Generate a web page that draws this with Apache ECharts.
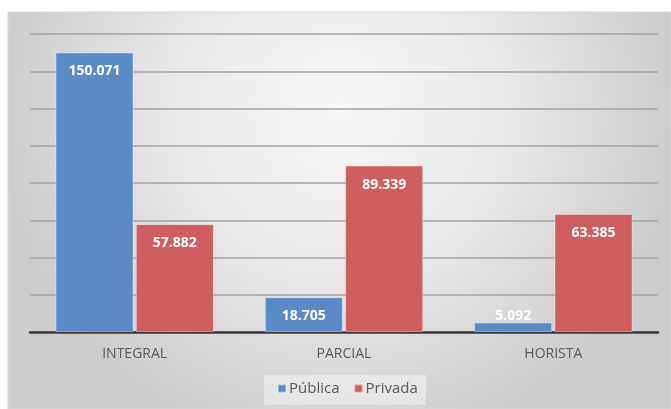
<!DOCTYPE html>
<html>
<head>
<meta charset="utf-8">
<script src="https://cdn.jsdelivr.net/npm/echarts@6/dist/echarts.min.js"></script>
<style>
  html, body { margin: 0; padding: 0; background: #ffffff; }
  #chart { width: 671px; height: 409px; }
</style>
</head>
<body>
<div id="chart"></div>
<script>
// Regime categories and enrolment counts per network
const categories = ['INTEGRAL', 'PARCIAL', 'HORISTA'];
const publica = [150071, 18705, 5092];
const privada = [57882, 89339, 63385];
const seriesNames = ['Pública', 'Privada'];

const fmt = v => v.toLocaleString('pt-BR');

const chart = echarts.init(document.getElementById('chart'), null, { renderer: 'canvas' });

const labelInside = {
  show: true,
  position: 'insideTop',
  distance: 12,
  color: '#ffffff',
  fontFamily: 'Open Sans',
  fontWeight: 'bold',
  fontSize: 14,
  formatter: p => fmt(p.value)
};

function withLabels(values) {
  // very short bars carry their label just above the bar
  return values.map(v => v < 10000
    ? { value: v, label: { position: 'top', distance: 0 } }
    : v);
}

chart.setOption({
  animation: false,
  graphic: [{
    type: 'rect',
    z: -10,
    silent: true,
    shape: { x: 8, y: 12, width: 663, height: 397 },
    style: {
      fill: {
        type: 'radial', x: 0.5, y: 0.25, r: 0.85,
        colorStops: [
          { offset: 0, color: '#f7f7f7' },
          { offset: 0.5, color: '#e8e8e8' },
          { offset: 1, color: '#cdcdcd' }
        ]
      },
      stroke: '#d9d9d9',
      lineWidth: 1
    }
  }, {
    type: 'rect',
    z: -5,
    silent: true,
    shape: { x: 264, y: 375, width: 162, height: 30 },
    style: { fill: 'rgba(255,255,255,0.4)' }
  }],
  grid: { left: 30, right: 13, top: 34, bottom: 77, containLabel: false },
  legend: {
    data: seriesNames,
    bottom: 8,
    left: 272,
    itemWidth: 8,
    itemHeight: 8,
    itemGap: 14,
    icon: 'rect',
    textStyle: { color: '#595959', fontSize: 15, fontFamily: 'Open Sans', padding: [0, 0, 0, -2] }
  },
  xAxis: {
    type: 'category',
    data: categories,
    axisLine: { show: true, lineStyle: { color: '#3a3a3a', width: 2.5 } },
    axisTick: { show: false },
    axisLabel: { color: '#595959', fontSize: 14, fontFamily: 'Open Sans', margin: 15 }
  },
  yAxis: {
    type: 'value',
    min: 0,
    max: 160000,
    interval: 20000,
    axisLabel: { show: false },
    axisLine: { show: false },
    axisTick: { show: false },
    splitLine: { lineStyle: { color: '#a3a3a3', width: 1.5 } }
  },
  series: [{
    name: seriesNames[0],
    type: 'bar',
    data: withLabels(publica),
    barWidth: 78,
    barGap: '3%',
    itemStyle: { color: '#5b8bc6', borderColor: 'rgba(255,255,255,0.35)', borderWidth: 1 },
    label: labelInside
  }, {
    name: seriesNames[1],
    type: 'bar',
    data: withLabels(privada),
    barWidth: 78,
    itemStyle: { color: '#cf5e5e', borderColor: 'rgba(255,255,255,0.35)', borderWidth: 1 },
    label: labelInside
  }]
});
</script>
</body>
</html>
